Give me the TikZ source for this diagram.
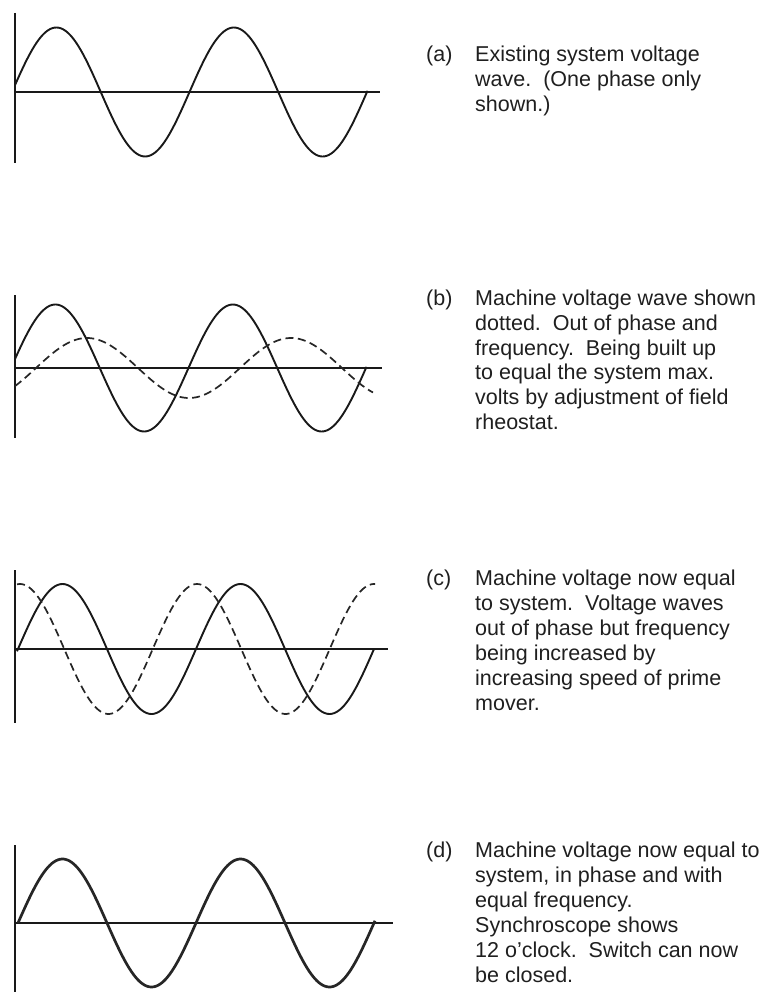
\documentclass[tikz,border=0pt]{standalone}
\usepackage{fontspec}
\setmainfont{Liberation Sans}
\begin{document}
\begin{tikzpicture}[x=1pt,y=-1pt,
  axis/.style={line width=1.9pt, draw=black!90},
  wave/.style={line width=1.9pt, draw=black!90, line join=round},
  thickwave/.style={line width=2.7pt, draw=black!85, line join=round},
  dwave/.style={line width=1.7pt, draw=black!85, dash pattern=on 8pt off 4.5pt},
  txt/.style={anchor=base west, inner sep=0pt, font=\fontsize{21.5}{25}\selectfont, text=black!88}]
\useasboundingbox (0,0) rectangle (762,992);

% ---------- panel (a)
\coordinate (av1) at (15,13);  \coordinate (av2) at (15,163);
\coordinate (ah1) at (15,92);  \coordinate (ah2) at (380,92);
\draw[axis] (av1) -- (av2);
\draw[axis] (ah1) -- (ah2);
\draw[wave] plot[domain=15:367.5, samples=180] (\x, {92 - 64.5*sin(((\x-12)/177.5)*360)});

\node[txt] (la)  at (426,62)  {(a)};
\node[txt] (a1)  at (475,62)  {Existing system voltage};
\node[txt] (a2)  at (475,87)  {wave.~~(One phase only};
\node[txt] (a3)  at (475,112) {shown.)};

% ---------- panel (b)
\coordinate (bv1) at (15,295); \coordinate (bv2) at (15,438);
\coordinate (bh1) at (15,368); \coordinate (bh2) at (382,368);
\draw[axis] (bv1) -- (bv2);
\draw[axis] (bh1) -- (bh2);
\draw[wave] plot[domain=15:366.5, samples=180] (\x, {368 - 63.5*sin(((\x-11)/177.5)*360)});
\draw[dwave] plot[domain=15:373, samples=180] (\x, {368 - 30*sin(((\x-36)/204)*360)});

\node[txt] (lb)  at (426,305) {(b)};
\node[txt] (b1)  at (475,305) {Machine voltage wave shown};
\node[txt] (b2)  at (475,330) {dotted.~~Out of phase and};
\node[txt] (b3)  at (475,355) {frequency.~~Being built up};
\node[txt] (b4)  at (475,379) {to equal the system max.};
\node[txt] (b5)  at (475,404) {volts by adjustment of field};
\node[txt] (b6)  at (475,429) {rheostat.};

% ---------- panel (c)
\coordinate (cv1) at (15,570); \coordinate (cv2) at (15,723);
\coordinate (ch1) at (15,649); \coordinate (ch2) at (388,649);
\draw[axis] (cv1) -- (cv2);
\draw[axis] (ch1) -- (ch2);
\draw[wave] plot[domain=17:374, samples=180] (\x, {649 - 65*sin(((\x-18)/178)*360)});
\draw[dwave] plot[domain=17:375, samples=180] (\x, {649 - 65*cos(((\x-20)/177)*360)});

\node[txt] (lc)  at (426,585) {(c)};
\node[txt] (c1)  at (475,585) {Machine voltage now equal};
\node[txt] (c2)  at (475,610) {to system.~~Voltage waves};
\node[txt] (c3)  at (475,635) {out of phase but frequency};
\node[txt] (c4)  at (475,660) {being increased by};
\node[txt] (c5)  at (475,685) {increasing speed of prime};
\node[txt] (c6)  at (475,710) {mover.};

% ---------- panel (d)
\coordinate (dv1) at (15,845); \coordinate (dv2) at (15,992);
\coordinate (dh1) at (15,923); \coordinate (dh2) at (393,923);
\draw[axis] (dv1) -- (dv2);
\draw[axis] (dh1) -- (dh2);
\draw[thickwave] plot[domain=18:375, samples=180] (\x, {923 - 64*sin(((\x-18)/178)*360)});

\node[txt] (ld)  at (426,857) {(d)};
\node[txt] (d1)  at (475,857) {Machine voltage now equal to};
\node[txt] (d2)  at (475,882) {system, in phase and with};
\node[txt] (d3)  at (475,907) {equal frequency.};
\node[txt] (d4)  at (475,932) {Synchroscope shows};
\node[txt] (d5)  at (475,957) {12 o'clock.~~Switch can now};
\node[txt] (d6)  at (475,982) {be closed.};
\end{tikzpicture}
\end{document}
